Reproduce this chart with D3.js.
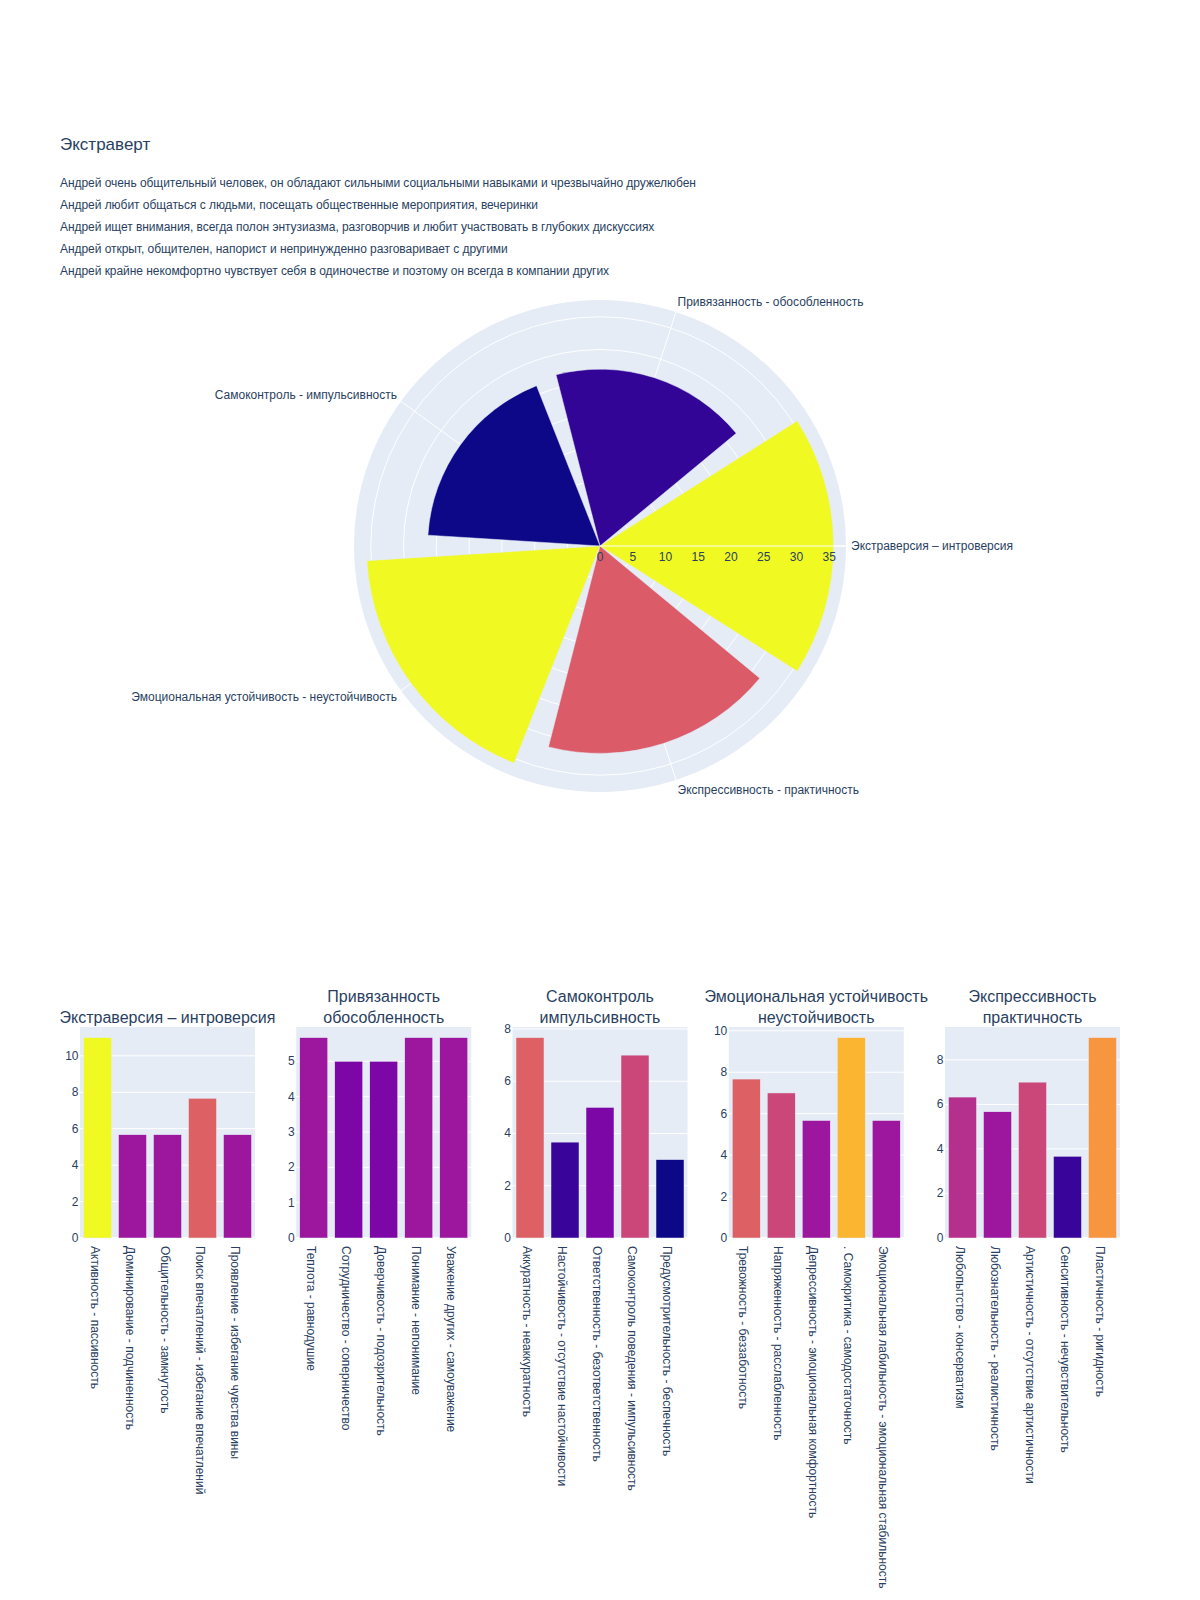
<!DOCTYPE html>
<html>
<head>
<meta charset="utf-8">
<script src="https://cdn.jsdelivr.net/npm/d3@7"></script>
<style>
  html, body { margin: 0; padding: 0; background: #fff; }
  svg text { font-family: "Liberation Sans", Arial, sans-serif; fill: #2a3f5f; }
</style>
</head>
<body>
<div id="chart"></div>
<script>
// ---------------- DATA ----------------
const chartTitle = "Экстраверт";
const descriptionLines = [
  "Андрей очень общительный человек, он обладают сильными социальными навыками и чрезвычайно дружелюбен",
  "Андрей любит общаться с людьми, посещать общественные мероприятия, вечеринки",
  "Андрей ищет внимания, всегда полон энтузиазма, разговорчив и любит участвовать в глубоких дискуссиях",
  "Андрей открыт, общителен, напорист и непринужденно разговаривает с другими",
  "Андрей крайне некомфортно чувствует себя в одиночестве и поэтому он всегда в компании других"
];

const polarCategories = [
  "Экстраверсия – интроверсия",
  "Привязанность - обособленность",
  "Самоконтроль - импульсивность",
  "Эмоциональная устойчивость - неустойчивость",
  "Экспрессивность - практичность"
];
const polarValues = [35.67, 27, 26.33, 35.67, 31.67];

const subplotTitles = [
  ["Экстраверсия – интроверсия"],
  ["Привязанность", "обособленность"],
  ["Самоконтроль", "импульсивность"],
  ["Эмоциональная устойчивость", "неустойчивость"],
  ["Экспрессивность", "практичность"]
];

const labelsExtraversion = ["Активность - пассивность", "Доминирование - подчиненность", "Общительность - замкнутость", "Поиск впечатлений - избегание впечатлений", "Проявление - избегание чувства вины"];
const valuesExtraversion = [11, 5.67, 5.67, 7.67, 5.67];

const labelsAttachment = ["Теплота - равнодушие", "Сотрудничество - соперничество", "Доверчивость - подозрительность", "Понимание - непонимание", "Уважение других - самоуважение"];
const valuesAttachment = [5.67, 5, 5, 5.67, 5.67];

const labelsSelfControl = ["Аккуратность - неаккуратность", "Настойчивость - отсутствие настойчивости", "Ответственность - безответственность", "Самоконтроль поведения - импульсивность", "Предусмотрительность - беспечность"];
const valuesSelfControl = [7.67, 3.67, 5, 7, 3];

const labelsEmotional = ["Тревожность - беззаботность", "Напряженность - расслабленность", "Депрессивность - эмоциональная комфортность", ". Самокритика - самодостаточность", "Эмоциональная лабильность - эмоциональная стабильность"];
const valuesEmotional = [7.67, 7, 5.67, 9.67, 5.67];

const labelsExpressive = ["Любопытство - консерватизм", "Любознательность - реалистичность", "Артистичность - отсутствие артистичности", "Сенситивность - нечувствительность", "Пластичность - ригидность"];
const valuesExpressive = [6.33, 5.67, 7, 3.67, 9];

const plasmaStops = ["#0d0887", "#46039f", "#7201a8", "#9c179e", "#bd3786", "#d8576b", "#ed7953", "#fb9f3a", "#fdca26", "#f0f921"];

// ---------------- LAYOUT ----------------
const W = 1200, H = 1600;
const bgColor = "#e5ecf6";

const svg = d3.select("#chart").append("svg")
  .attr("width", W).attr("height", H)
  .attr("viewBox", `0 0 ${W} ${H}`);

function plasmaScale(domain) {
  const [lo, hi] = domain;
  return d3.scaleLinear()
    .domain(plasmaStops.map((_, i) => lo + (hi - lo) * i / (plasmaStops.length - 1)))
    .range(plasmaStops)
    .interpolate(d3.interpolateRgb)
    .clamp(true);
}

// Title & description
svg.append("text")
  .attr("x", 60).attr("y", 144)
  .attr("dominant-baseline", "central")
  .style("font-size", "17px")
  .text(chartTitle);

svg.selectAll("text.desc").data(descriptionLines).enter().append("text")
  .attr("class", "desc")
  .attr("x", 60)
  .attr("y", (d, i) => 183 + i * 21.9)
  .attr("dominant-baseline", "central")
  .style("font-size", "12px")
  .style("letter-spacing", "-0.05px")
  .text(d => d);

// ---------------- POLAR BAR ----------------
const cx = 600, cy = 546, R = 246;
const rScale = d3.scaleLinear().domain([0, d3.max(polarValues) * 1.053]).range([0, R]);
const polarColor = plasmaScale(d3.extent(polarValues));
const nCat = polarCategories.length;
const stepDeg = 360 / nCat;
const barDeg = stepDeg * 0.9;
const toRad = d => d * Math.PI / 180;

const gp = svg.append("g").attr("transform", `translate(${cx},${cy})`);
gp.append("circle").attr("r", R).attr("fill", bgColor);

const rTicks = rScale.ticks(10).filter(t => t <= rScale.domain()[1]);
gp.selectAll("circle.grid").data(rTicks.filter(t => t > 0)).enter().append("circle")
  .attr("class", "grid")
  .attr("r", d => rScale(d))
  .attr("fill", "none").attr("stroke", "#fff").attr("stroke-width", 1);

gp.selectAll("line.agrid").data(polarCategories).enter().append("line")
  .attr("class", "agrid")
  .attr("x1", 0).attr("y1", 0)
  .attr("x2", (d, i) => R * Math.cos(toRad(i * stepDeg)))
  .attr("y2", (d, i) => -R * Math.sin(toRad(i * stepDeg)))
  .attr("stroke", "#fff").attr("stroke-width", 1);

const arc = d3.arc();
gp.selectAll("path.pbar").data(polarValues).enter().append("path")
  .attr("class", "pbar")
  .attr("d", (v, i) => {
    const c = i * stepDeg;
    return arc({
      innerRadius: 0,
      outerRadius: rScale(v),
      startAngle: toRad(90 - c - barDeg / 2),
      endAngle: toRad(90 - c + barDeg / 2)
    });
  })
  .attr("fill", v => polarColor(v))
  .attr("stroke", bgColor).attr("stroke-width", 0.5);

// radial axis line on top
gp.append("line").attr("x1", 0).attr("y1", 0).attr("x2", R).attr("y2", 0)
  .attr("stroke", "#fff").attr("stroke-width", 1);

gp.selectAll("text.rtick").data(rTicks).enter().append("text")
  .attr("class", "rtick")
  .attr("x", d => rScale(d))
  .attr("y", 11)
  .attr("text-anchor", "middle")
  .attr("dominant-baseline", "central")
  .style("font-size", "12px")
  .text(d => d);

gp.selectAll("text.alabel").data(polarCategories).enter().append("text")
  .attr("class", "alabel")
  .each(function (d, i) {
    const a = toRad(i * stepDeg);
    const c = Math.cos(a), s = Math.sin(a);
    const rr = R + 5;
    d3.select(this)
      .attr("x", rr * c)
      .attr("y", -rr * s - s * 6)
      .attr("text-anchor", c > 0.1 ? "start" : (c < -0.1 ? "end" : "middle"))
      .attr("dominant-baseline", "central");
  })
  .style("font-size", "12px")
  .text(d => d);

// ---------------- BAR SUBPLOTS ----------------
const subLabels = [labelsExtraversion, labelsAttachment, labelsSelfControl, labelsEmotional, labelsExpressive];
const subValues = [valuesExtraversion, valuesAttachment, valuesSelfControl, valuesEmotional, valuesExpressive];
const barColor = plasmaScale(d3.extent(subValues.flat()));

const plotLeft = 80, plotRight = 1120, gap = 41.25;
const plotW = (plotRight - plotLeft - gap * (subLabels.length - 1)) / subLabels.length;
const plotTop = 1027, plotBottom = 1238;

subLabels.forEach((labels, k) => {
  const vals = subValues[k];
  const x0 = plotLeft + k * (plotW + gap);
  const g = svg.append("g");
  const x = d3.scaleBand().domain(labels).range([x0, x0 + plotW]).paddingInner(0.2).paddingOuter(0.1);
  const y = d3.scaleLinear().domain([0, d3.max(vals) * 1.053]).range([plotBottom, plotTop]);

  g.append("rect").attr("x", x0).attr("y", plotTop).attr("width", plotW).attr("height", plotBottom - plotTop)
    .attr("fill", bgColor);

  const ticks = y.ticks(5);
  g.selectAll("line.yg").data(ticks).enter().append("line")
    .attr("x1", x0).attr("x2", x0 + plotW)
    .attr("y1", d => y(d)).attr("y2", d => y(d))
    .attr("stroke", "#fff").attr("stroke-width", d => d === 0 ? 2 : 1);

  g.selectAll("text.yt").data(ticks).enter().append("text")
    .attr("x", x0 - 1.5).attr("y", d => y(d))
    .attr("text-anchor", "end").attr("dominant-baseline", "central")
    .style("font-size", "12px")
    .text(d => d);

  g.selectAll("rect.bar").data(vals).enter().append("rect")
    .attr("x", (d, i) => x(labels[i]))
    .attr("y", d => y(d))
    .attr("width", x.bandwidth())
    .attr("height", d => y(0) - y(d))
    .attr("fill", d => barColor(d))
    .attr("stroke", bgColor).attr("stroke-width", 0.5);

  g.selectAll("text.xl").data(labels).enter().append("text")
    .attr("transform", d => `translate(${x(d) + x.bandwidth() / 2 - 3},${plotBottom + 8}) rotate(90)`)
    .attr("text-anchor", "start").attr("dominant-baseline", "central")
    .style("font-size", "12px")
    .text(d => d);

  const tl = subplotTitles[k];
  g.selectAll("text.st").data(tl).enter().append("text")
    .attr("x", x0 + plotW / 2)
    .attr("y", (d, j) => 1017 - (tl.length - 1 - j) * 21)
    .attr("text-anchor", "middle").attr("dominant-baseline", "central")
    .style("font-size", "16px")
    .text(d => d);
});
</script>
</body>
</html>
